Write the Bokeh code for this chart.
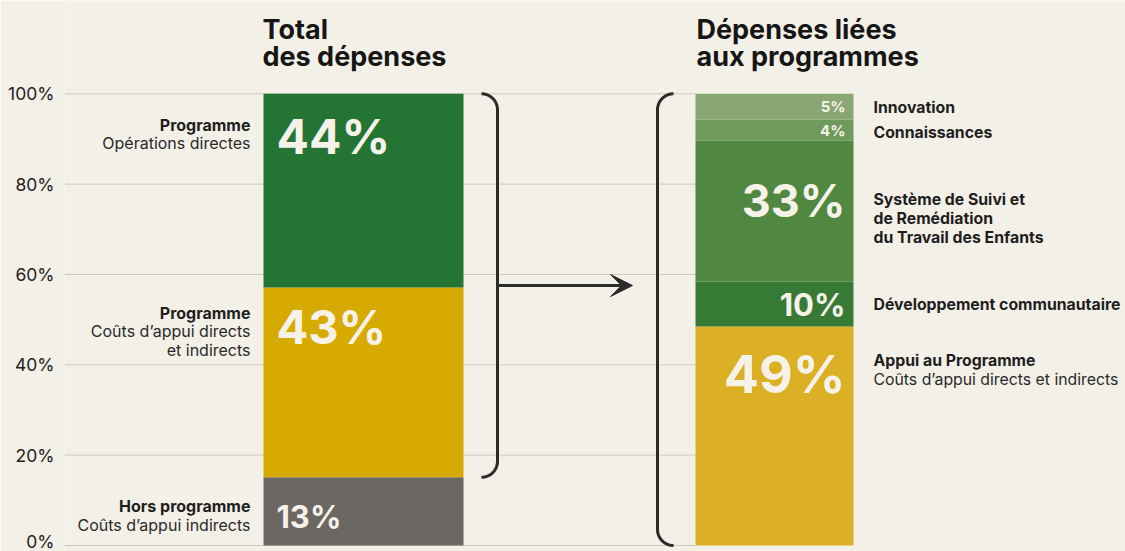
from bokeh.plotting import figure
from bokeh.models import Range1d, FixedTicker, PrintfTickFormatter, Arrow, VeeHead
from bokeh.core.properties import value
from bokeh.embed import file_html
from bokeh.resources import INLINE
import numpy as np

# ---------------- data ----------------
ticks = [0, 20, 40, 60, 80, 100]

total_title = ["Total", "des dépenses"]
total_cats = ["Hors programme", "Programme", "Programme"]
total_subs = [["Coûts d’appui indirects"], ["Coûts d’appui directs", "et indirects"], ["Opérations directes"]]
total_values = [15.1, 42.0, 42.9]          # heights as drawn
total_labels = ["13%", "43%", "44%"]
total_colors = ["#6b6863", "#d7aa00", "#247534"]

prog_title = ["Dépenses liées", "aux programmes"]
prog_cats = ["Appui au Programme", "Développement communautaire",
             "Système de Suivi et\nde Remédiation\ndu Travail des Enfants",
             "Connaissances", "Innovation"]
prog_subs = [["Coûts d’appui directs et indirects"], [], [], [], []]
prog_values = [48.5, 9.9, 31.2, 4.7, 5.7]   # heights as drawn
prog_labels = ["49%", "10%", "33%", "4%", "5%"]
prog_colors = ["#dbb024", "#377a36", "#508842", "#6f9a5b", "#89a673"]

# ---------------- layout ----------------
W, H = 1125, 551
LEFT = 64
PX0, K = 545.0, 4.517           # pixel row of 0 %, pixels per 1 %
BG = "#f3f0e8"
FONT = "Inter"
DARK = "#161616"
WHITE = "#f6f2ea"


def yd(px):
    return (PX0 - px) / K


p = figure(width=W, height=H, output_backend="svg", toolbar_location=None,
           x_range=Range1d(LEFT, W), y_range=Range1d(yd(H), yd(0)),
           x_axis_type=None, min_border_left=LEFT, min_border_right=0,
           min_border_top=0, min_border_bottom=0)
p.background_fill_color = BG
p.border_fill_color = BG
p.outline_line_color = None
p.ygrid.visible = False

ax = p.yaxis[0]
ax.ticker = FixedTicker(ticks=ticks)
ax.formatter = PrintfTickFormatter(format="%d%%")
ax.axis_line_color = None
ax.major_tick_line_color = None
ax.minor_tick_line_color = None
ax.major_label_text_font = FONT
ax.major_label_text_font_size = "17.5px"
ax.major_label_text_color = "#222222"
ax.major_label_standoff = 4

# bar geometry
LX0, LX1 = 263, 463
RX0, RX1 = 695, 853

# grid lines (behind bars)
p.segment(x0=[LEFT] * len(ticks), x1=[RX0] * len(ticks), y0=ticks, y1=ticks,
          line_color="#ccc8bf", line_width=1)

# stacked bars
lb = np.concatenate([[0], np.cumsum(total_values)[:-1]])
lt = np.cumsum(total_values)
p.quad(left=LX0, right=LX1, bottom=lb, top=lt, fill_color=total_colors, line_color=None)

rb = np.concatenate([[0], np.cumsum(prog_values)[:-1]])
rt = np.cumsum(prog_values)
p.quad(left=RX0, right=RX1, bottom=rb, top=rt, fill_color=prog_colors, line_color=None)

# titles
for i, t in enumerate(total_title):
    p.text(x=[LX0 - 1], y=[yd(29 + 27 * i)], text=[t], text_font=value(FONT),
           text_font_style="bold", text_font_size="27px", text_color=DARK,
           text_baseline="alphabetic", text_align="left")
for i, t in enumerate(prog_title):
    p.text(x=[RX0 + 1], y=[yd(29 + 27 * i)], text=[t], text_font=value(FONT),
           text_font_style="bold", text_font_size="27px", text_color=DARK,
           text_baseline="alphabetic", text_align="left")

# left bar percent labels
left_off = [39, 39, 43]
left_size = ["31px", "47px", "48px"]
for i in range(3):
    p.text(x=[LX0 + 13], y=[lt[i] - left_off[i] / K], text=[total_labels[i]],
           text_font=value(FONT), text_font_style="bold", text_font_size=left_size[i],
           text_color=WHITE, text_baseline="middle", text_align="left")

# left category labels
left_cat_off = [29, 25, 31]
for i in range(3):
    y0 = lt[i] - left_cat_off[i] / K
    p.text(x=[250], y=[y0], text=[total_cats[i]], text_font=value(FONT),
           text_font_style="bold", text_font_size="16px", text_color="#1e1e1e",
           text_baseline="middle", text_align="right")
    for j, s in enumerate(total_subs[i]):
        p.text(x=[250], y=[y0 - (18.5 * (j + 1)) / K], text=[s], text_font=value(FONT),
               text_font_size="16px", text_color="#2a2a2a",
               text_baseline="middle", text_align="right")

# right bar percent labels
r_pos = [rt[0] - 48 / K, (rb[1] + rt[1]) / 2, rt[2] - 60 / K,
         (rb[3] + rt[3]) / 2, (rb[4] + rt[4]) / 2]
r_size = ["52px", "31px", "45px", "15px", "15px"]
for i in range(5):
    p.text(x=[RX1 - 8], y=[r_pos[i]], text=[prog_labels[i]], text_font=value(FONT),
           text_font_style="bold", text_font_size=r_size[i], text_color=WHITE,
           text_baseline="middle", text_align="right")

# right category labels
r_cat_pos = [rt[0] - 34 / K, (rb[1] + rt[1]) / 2, rt[2] - 59 / K,
             (rb[3] + rt[3]) / 2 - 2 / K, (rb[4] + rt[4]) / 2 - 1 / K]
for i in range(5):
    lines = prog_cats[i].split("\n")
    for j, s in enumerate(lines):
        p.text(x=[873], y=[r_cat_pos[i] - 19 * j / K], text=[s], text_font=value(FONT),
               text_font_style="bold", text_font_size="15.8px", text_color="#1e1e1e",
               text_baseline="middle", text_align="left")
    for j, s in enumerate(prog_subs[i]):
        p.text(x=[873], y=[r_cat_pos[i] - 19 * (j + 1) / K], text=[s], text_font=value(FONT),
               text_font_size="15.8px", text_color="#2a2a2a",
               text_baseline="middle", text_align="left")


# brackets
def bracket(x_end, x_line, y_top, y_bot, r=16, n=20):
    sgn = 1 if x_line > x_end else -1
    xs, ys = [], []
    a = np.linspace(np.pi / 2, 0, n)
    cx = x_line - sgn * r
    for t in a:
        xs.append(cx + sgn * r * np.cos(t))
        ys.append(y_top - (r - r * np.sin(t)) / K)
    for t in a[::-1]:
        xs.append(cx + sgn * r * np.cos(t))
        ys.append(y_bot + (r - r * np.sin(t)) / K)
    return xs, ys


bx, by = bracket(480, 497, lt[-1], lt[0])
p.line(bx, by, line_color="#2b2b2b", line_width=3)
bx, by = bracket(673, 657, rt[-1], 0)
p.line(bx, by, line_color="#2b2b2b", line_width=3)

ymid = (lt[-1] + lt[0]) / 2
p.add_layout(Arrow(x_start=497, y_start=ymid, x_end=632, y_end=ymid,
                   line_color="#2b2b2b", line_width=3,
                   end=VeeHead(size=22, fill_color="#2b2b2b", line_color="#2b2b2b")))

open("out.html", "w").write(file_html(p, INLINE))
